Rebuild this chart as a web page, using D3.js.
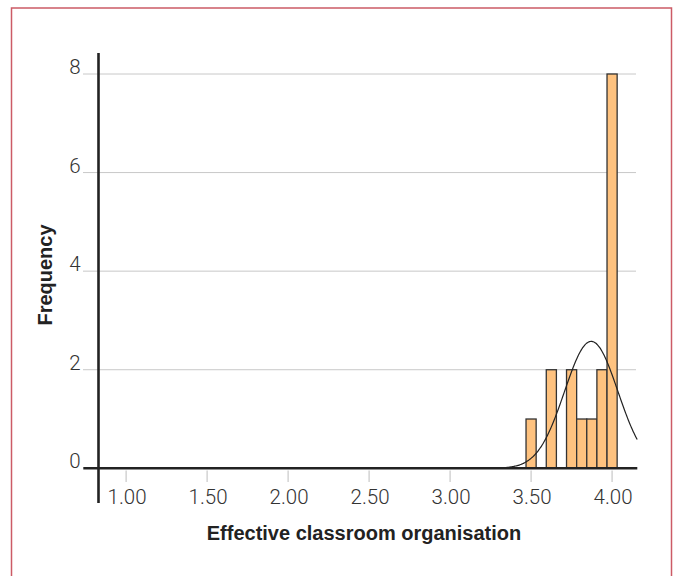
<!DOCTYPE html>
<html>
<head>
<meta charset="utf-8">
<script src="https://cdn.jsdelivr.net/npm/d3@7/dist/d3.min.js"></script>
<style>
  html, body { margin: 0; padding: 0; background: #fff; }
  svg { display: block; }
  .tick-label { font-family: Roboto, "Liberation Sans", Arial, sans-serif; font-weight: 300; font-size: 20.5px; fill: #333; }
  .axis-title { font-family: "Liberation Sans", Arial, sans-serif; font-size: 20px; font-weight: bold; fill: #222; }
</style>
</head>
<body>
<script>
// Histogram of "Effective classroom organisation" scores with a fitted normal curve
const binCenters = [3.5, 3.5625, 3.625, 3.6875, 3.75, 3.8125, 3.875, 3.9375, 4.0];
const frequencies = [1, 0, 2, 0, 2, 1, 1, 2, 8];
const binWidth = 0.0625;
const xTicks = [1.0, 1.5, 2.0, 2.5, 3.0, 3.5, 4.0];
const yTicks = [0, 2, 4, 6, 8];
const xTitle = "Effective classroom organisation";
const yTitle = "Frequency";

const W = 680, H = 576;
const svg = d3.select("body").append("svg").attr("width", W).attr("height", H);

// outer frame
svg.append("rect")
  .attr("x", 11.5).attr("y", 8).attr("width", 660).attr("height", 600)
  .attr("fill", "none").attr("stroke", "#cc5b66").attr("stroke-width", 1.5);

const x = d3.scaleLinear().domain([0.74, 4.16]).range([84, 638]);
const y = d3.scaleLinear().domain([0, 8]).range([468.3, 74]);

// horizontal gridlines
svg.append("g").selectAll("line").data(yTicks.filter(d => d > 0)).join("line")
  .attr("x1", 83).attr("x2", 636)
  .attr("y1", d => y(d)).attr("y2", d => y(d))
  .attr("stroke", "#c8c8c8").attr("stroke-width", 1);

// y tick labels
svg.append("g").selectAll("text").data(yTicks).join("text")
  .attr("class", "tick-label")
  .attr("x", 80.5).attr("y", d => y(d))
  .attr("text-anchor", "end")
  .text(d => d);

// x tick marks and labels
svg.append("g").selectAll("line").data(xTicks).join("line")
  .attr("x1", d => x(d)).attr("x2", d => x(d))
  .attr("y1", 470.5).attr("y2", 482)
  .attr("stroke", "#c8c8c8").attr("stroke-width", 1.2);
svg.append("g").selectAll("text").data(xTicks).join("text")
  .attr("class", "tick-label")
  .attr("x", d => x(d) + 1).attr("y", 504)
  .attr("text-anchor", "middle")
  .text(d => d3.format(".2f")(d));

// bars
const bins = binCenters.map((c, i) => ({ c, f: frequencies[i] })).filter(d => d.f > 0);
svg.append("g").selectAll("rect").data(bins).join("rect")
  .attr("x", d => x(d.c - binWidth / 2))
  .attr("width", d => x(d.c + binWidth / 2) - x(d.c - binWidth / 2))
  .attr("y", d => y(d.f))
  .attr("height", d => y(0) - y(d.f))
  .attr("fill", "#fec27f").attr("stroke", "#333").attr("stroke-width", 1.3);

// fitted normal curve scaled to counts
const n = d3.sum(frequencies);
const mean = d3.sum(binCenters.map((c, i) => c * frequencies[i])) / n;
const sd = Math.sqrt(d3.sum(binCenters.map((c, i) => frequencies[i] * (c - mean) ** 2)) / (n - 1));
const density = v => n * binWidth * Math.exp(-0.5 * ((v - mean) / sd) ** 2) / (sd * Math.sqrt(2 * Math.PI));
const curveX = d3.range(3.0, 4.158, 0.005);
svg.append("path")
  .datum(curveX)
  .attr("d", d3.line().x(v => x(v)).y(v => y(density(v))).curve(d3.curveBasis))
  .attr("fill", "none").attr("stroke", "#222").attr("stroke-width", 1.2);

// axis lines
svg.append("line").attr("x1", 83.3).attr("x2", 637.3).attr("y1", 468.3).attr("y2", 468.3)
  .attr("stroke", "#222").attr("stroke-width", 2.6);
svg.append("line").attr("x1", 98.5).attr("x2", 98.5).attr("y1", 53).attr("y2", 503)
  .attr("stroke", "#222").attr("stroke-width", 2.6);

// axis titles
svg.append("text").attr("class", "axis-title")
  .attr("x", 364).attr("y", 540).attr("text-anchor", "middle").text(xTitle);
svg.append("text").attr("class", "axis-title")
  .attr("transform", "translate(52,275) rotate(-90)")
  .attr("text-anchor", "middle").text(yTitle);
</script>
</body>
</html>
